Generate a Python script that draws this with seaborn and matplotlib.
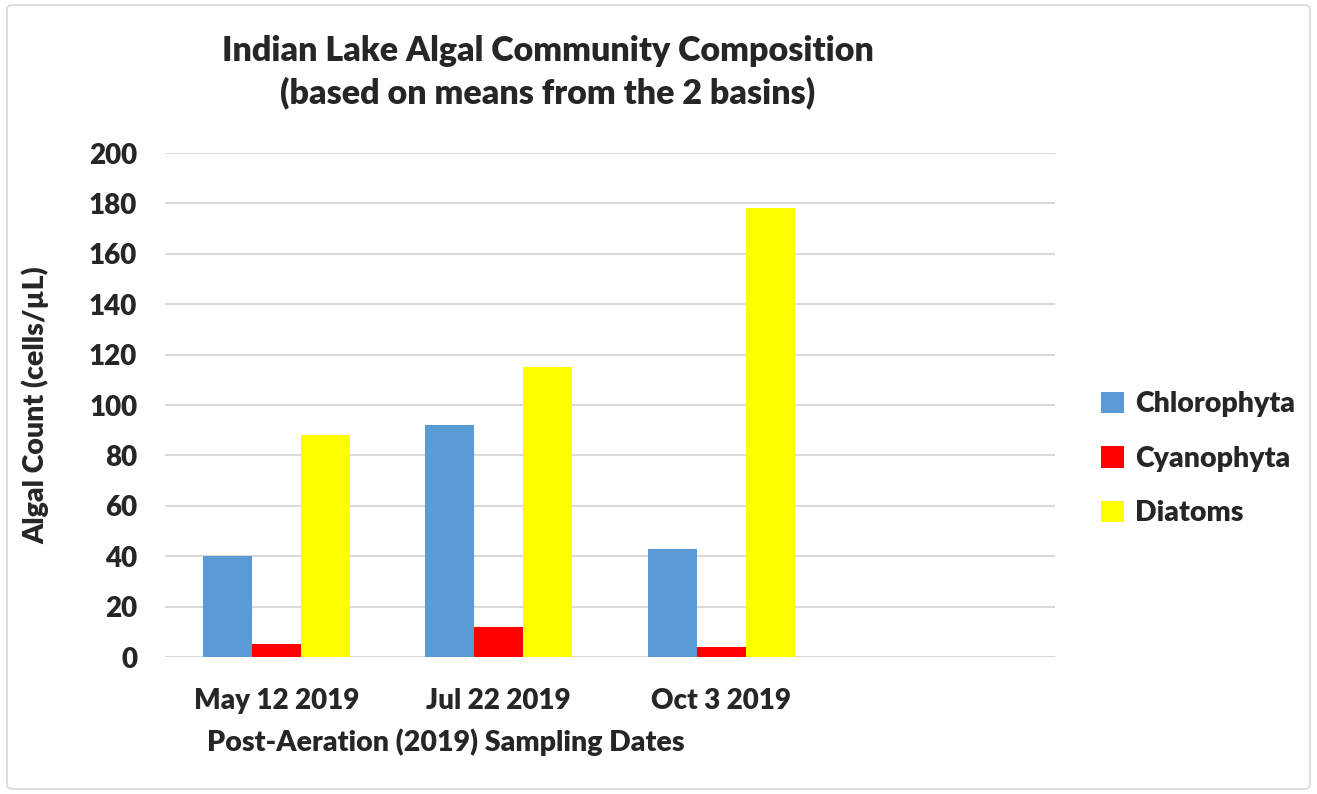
import pandas as pd
import numpy as np
import matplotlib.pyplot as plt
import seaborn as sns
from matplotlib.patches import FancyBboxPatch

# datos
fechas = ['May 12 2019', 'Jul 22 2019', 'Oct 3 2019']
grupos = ['Chlorophyta', 'Cyanophyta', 'Diatoms']
chlorophyta = [40, 92, 43]
cyanophyta = [5, 12, 4]
diatoms = [88, 115, 178]
colores = ['#5b9bd5', '#ff0000', '#ffff00']

df = pd.DataFrame({
    'Fecha': fechas * 3,
    'Grupo': np.repeat(grupos, len(fechas)),
    'Valor': chlorophyta + cyanophyta + diatoms,
})

sns.set_theme(style='white')
plt.rcParams['font.family'] = ['Lato', 'DejaVu Sans']
peso = 'heavy'

fig = plt.figure(figsize=(13.17, 7.94), dpi=100)
ax = fig.add_axes([165 / 1317, 1 - 657 / 794, 890 / 1317, 504 / 794])

sns.barplot(data=df, x='Fecha', y='Valor', hue='Grupo', order=fechas,
            hue_order=grupos, palette=colores, width=0.66, saturation=1,
            linewidth=0, ax=ax)

ax.set_xlim(-0.5, 3.5)
ax.set_ylim(0, 200)
ax.set_yticks(range(0, 201, 20))
ax.yaxis.grid(True, color='#d9d9d9', linewidth=1.5)
ax.set_axisbelow(True)
for s in ax.spines.values():
    s.set_visible(False)
ax.tick_params(axis='y', length=0, labelsize=20, pad=20)
ax.tick_params(axis='x', length=0, labelsize=20, pad=22)
for lab in ax.get_xticklabels() + ax.get_yticklabels():
    lab.set_fontweight(peso)

ax.set_xlabel('Post-Aeration (2019) Sampling Dates', fontsize=20.5,
              fontweight=peso)
ax.xaxis.set_label_coords(0.315, -0.142)
ax.set_ylabel('Algal Count (cells/µL)', fontsize=20.5, fontweight=peso)
ax.yaxis.set_label_coords(-0.13, 0.5)

fig.text(548 / 1317, 1 - 72 / 794,
         'Indian Lake Algal Community Composition\n(based on means from the 2 basins)',
         ha='center', va='center', fontsize=24.5, fontweight=peso,
         linespacing=1.38)

leg = ax.legend(loc='center left', bbox_to_anchor=(1.023, 0.393), frameon=False,
                fontsize=20.5, handlelength=0.8, handleheight=0.8,
                labelspacing=1.0, handletextpad=0.4)
for t in leg.get_texts():
    t.set_fontweight(peso)

# marco exterior
fig.patches.append(FancyBboxPatch((7 / 1317, 5 / 794), 1303 / 1317, 784 / 794,
                                  boxstyle='round,pad=0,rounding_size=0.005',
                                  transform=fig.transFigure, fill=False,
                                  edgecolor='#d9d9d9', linewidth=1.2))

fig.savefig('out.png', dpi=100)
